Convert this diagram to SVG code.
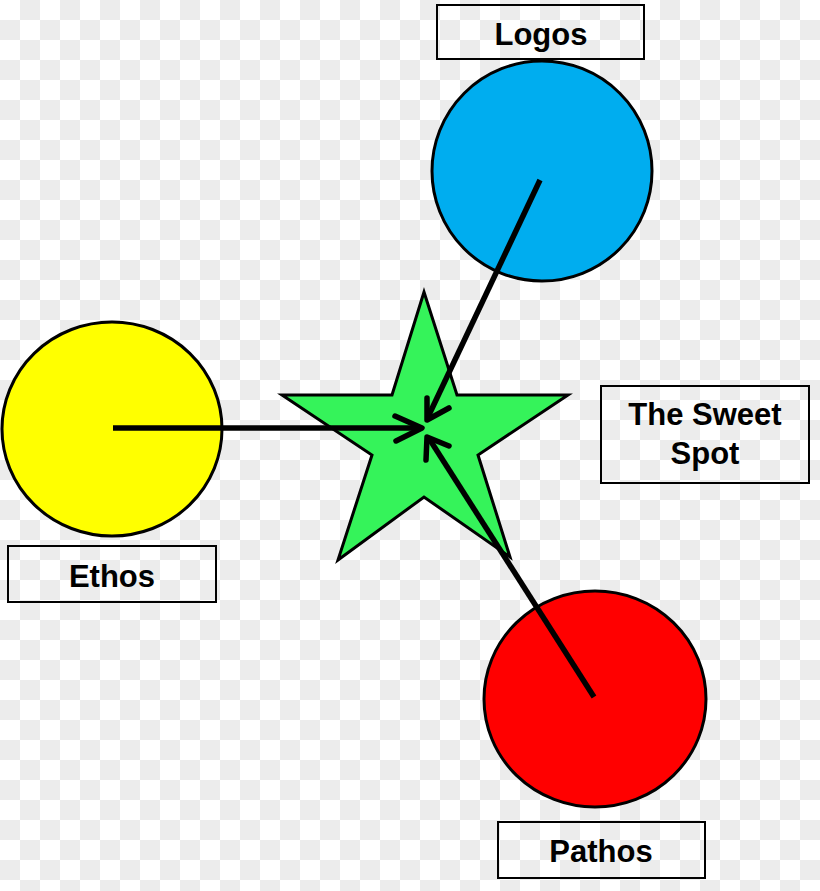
<svg xmlns="http://www.w3.org/2000/svg" width="820" height="891" viewBox="0 0 820 891">
<defs>
<pattern id="checker" x="0" y="0" width="40" height="40" patternUnits="userSpaceOnUse">
<rect x="0" y="0" width="40" height="40" fill="#ffffff"/>
<rect x="20" y="0" width="20" height="20" fill="#ececec"/>
<rect x="0" y="20" width="20" height="20" fill="#ececec"/>
</pattern>
</defs>
<style>
.circ{stroke:#000;stroke-width:3}
.box{fill:#fff;fill-opacity:0;stroke:#000;stroke-width:2}
.lbl{font-family:"Liberation Sans",Arial,sans-serif;font-weight:bold;font-size:31px;fill:#000;text-anchor:middle}
.conn{fill:none;stroke:#000;stroke-width:5.5;stroke-linejoin:miter}
.head{fill:none;stroke:#000;stroke-width:5.5;stroke-linecap:round;stroke-linejoin:round}
</style>
<rect x="0" y="0" width="820" height="891" fill="url(#checker)"/>
<g id="sweet-spot">
<polygon points="424,292 457,395 568,395 478,455 510,557 424,497 338,560 372,455 282,395 392,395" fill="#35f35a" stroke="#000" stroke-width="3" stroke-linejoin="miter"/>
<rect class="box" x="601" y="386" width="208" height="97"/>
<text class="lbl" x="705" y="425">The Sweet</text>
<text class="lbl" x="705" y="464">Spot</text>
</g>
<g id="logos">
<ellipse class="circ" cx="542" cy="171" rx="110" ry="110" fill="#00adef"/>
<rect class="box" x="437" y="5" width="207" height="54"/>
<text class="lbl" x="541" y="45">Logos</text>
</g>
<g id="ethos">
<ellipse class="circ" cx="112" cy="429" rx="110" ry="107" fill="#ffff00"/>
<rect class="box" x="8" y="546" width="208" height="56"/>
<text class="lbl" x="112" y="587">Ethos</text>
</g>
<g id="pathos">
<ellipse class="circ" cx="595" cy="699" rx="111" ry="108" fill="#ff0000"/>
<rect class="box" x="498" y="822" width="207" height="56"/>
<text class="lbl" x="601" y="862">Pathos</text>
</g>
<g id="connectors">
<line class="conn" x1="113" y1="428" x2="421" y2="428"/>
<polyline class="head" points="395,416 422,428 396,441"/>
<line class="conn" x1="540" y1="180" x2="428" y2="417"/>
<polyline class="head" points="427,398 427,420 449,408"/>
<line class="conn" x1="594" y1="697" x2="430" y2="440"/>
<polyline class="head" points="426,460 427,437 449,446"/>
</g>
</svg>
